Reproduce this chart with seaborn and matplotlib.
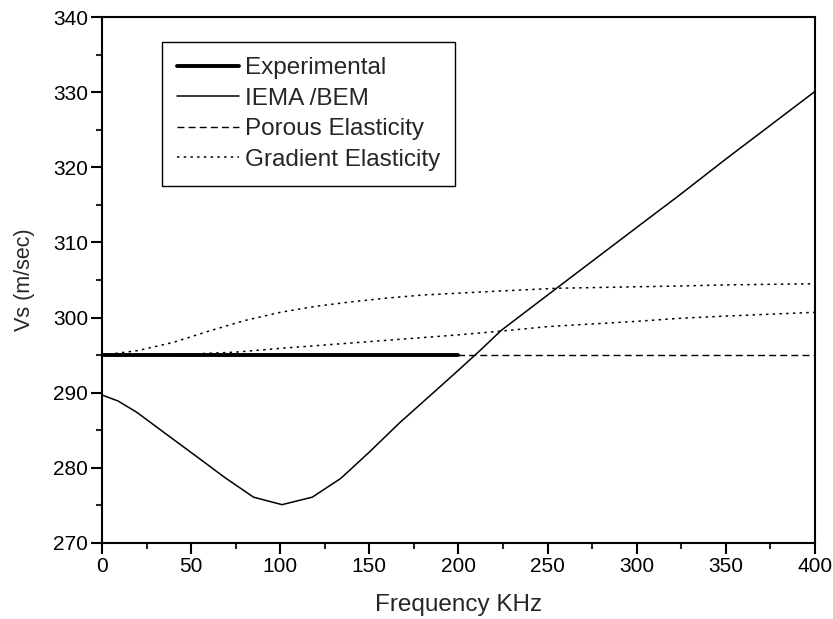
import numpy as np
import pandas as pd
import matplotlib
matplotlib.use("Agg")
import matplotlib.pyplot as plt
from matplotlib.ticker import MultipleLocator
import seaborn as sns

# values
exp_freq = [0, 200]
exp_vs = [295.0, 295.0]

iema_freq = [0, 9, 19.5, 36, 52, 69, 85, 101, 118, 134, 150, 167, 184, 200,
             212, 224, 255, 300, 324, 350, 400]
iema_vs = [289.7, 288.9, 287.4, 284.5, 281.7, 278.7, 276.1, 275.1, 276.1, 278.6,
           282.1, 286.0, 289.6, 293.0, 295.6, 298.3, 303.9, 312.0, 316.3, 321.1, 330.1]

porous_freq = [0, 400]
porous_vs = [295.0, 295.0]

grad_freq = [0, 20, 40, 60, 80, 100, 120, 140, 160, 180, 212, 255, 300, 324, 350, 400]
grad_hi = [295.0, 295.6, 296.7, 298.2, 299.6, 300.7, 301.5, 302.1, 302.6, 303.0,
           303.4, 303.9, 304.1, 304.2, 304.35, 304.5]

grad2_freq = [0, 25, 50, 75, 100, 125, 150, 175, 200, 224, 250, 300, 324, 350, 400]
grad_lo = [295.0, 295.05, 295.15, 295.4, 295.9, 296.35, 296.8, 297.25, 297.7, 298.2,
           298.8, 299.5, 299.9, 300.2, 300.7]

sns.set_theme(style="ticks")
plt.rcParams["font.family"] = ["Liberation Sans", "DejaVu Sans"]

fig = plt.figure(figsize=(8.33, 6.19), dpi=100)
ax = fig.add_axes([0.1224, 0.1228, 0.856, 0.8497])

sns.lineplot(x=porous_freq, y=porous_vs, ax=ax, color="black", linewidth=1.0,
             linestyle=(0, (5, 3)), label="Porous Elasticity")
sns.lineplot(x=exp_freq, y=exp_vs, ax=ax, color="black", linewidth=2.8,
             label="Experimental")
sns.lineplot(x=iema_freq, y=iema_vs, ax=ax, color="black", linewidth=1.1,
             label="IEMA /BEM")
sns.lineplot(x=grad_freq, y=grad_hi, ax=ax, color="black", linewidth=1.1,
             linestyle=(0, (1.6, 2.8)), label="Gradient Elasticity")
sns.lineplot(x=grad2_freq, y=grad_lo, ax=ax, color="black", linewidth=1.1,
             linestyle=(0, (1.6, 2.8)), label="_nolegend_")

ax.set_xlim(0, 400)
ax.set_ylim(270, 340)
ax.xaxis.set_major_locator(MultipleLocator(50))
ax.xaxis.set_minor_locator(MultipleLocator(25))
ax.yaxis.set_major_locator(MultipleLocator(10))
ax.yaxis.set_minor_locator(MultipleLocator(5))

for s in ax.spines.values():
    s.set_visible(True)
    s.set_linewidth(1.5)
    s.set_color("black")

ax.tick_params(which="major", direction="out", length=8, width=1.5,
               labelsize=15, pad=2, colors="black")
ax.tick_params(which="minor", direction="out", length=4.5, width=1.5)
ax.tick_params(top=False, right=False, which="both")

ax.set_xlabel("Frequency KHz", fontsize=17.5, labelpad=13)
ax.set_ylabel("Vs (m/sec)", fontsize=15.5, labelpad=13)

lines = {l.get_label(): l for l in ax.get_lines()}
order = ["Experimental", "IEMA /BEM", "Porous Elasticity", "Gradient Elasticity"]
leg = ax.legend([lines[k] for k in order], order, loc="upper left",
                bbox_to_anchor=(0.084, 0.952), fontsize=17.5, frameon=True,
                fancybox=False, edgecolor="black", framealpha=1,
                handlelength=2.55, handletextpad=0.25, labelspacing=0.35,
                borderpad=0.62, borderaxespad=0)
leg.get_frame().set_linewidth(1.0)

fig.savefig("out.png", dpi=100)
